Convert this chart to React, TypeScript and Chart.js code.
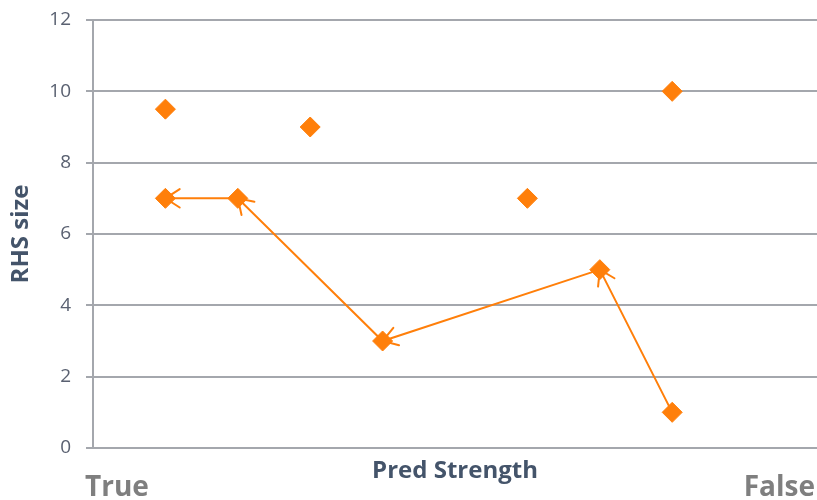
import React, { useEffect, useRef } from "react";
import { Chart, registerables } from "chart.js";

Chart.register(...registerables);

// Individual observations (x = position along predictor strength, y = RHS size)
const pointX = [1, 1, 2, 3, 4, 6, 7, 8, 8];
const pointY = [9.5, 7, 7, 9, 3, 7, 5, 10, 1];

// Path traced between observations, in travel order (arrow at each destination)
const pathX = [8, 7, 4, 2, 1];
const pathY = [1, 5, 3, 7, 7];

const yTicks = [0, 2, 4, 6, 8, 10, 12];
const xLeftLabel = "True";
const xRightLabel = "False";
const xTitle = "Pred Strength";
const yTitle = "RHS size";

const ORANGE = "#ff7f0a";
const GRID = "#a4a7ad";
const FONT = "'Open Sans', 'Liberation Sans', sans-serif";

const arrowPlugin = {
  id: "pathArrows",
  afterDatasetDraw(chart: any, args: any) {
    if (args.index !== 1) return;
    const pts = args.meta.data;
    const ctx = chart.ctx;
    ctx.save();
    ctx.strokeStyle = ORANGE;
    ctx.lineWidth = 2;
    ctx.lineCap = "round";
    for (let i = 1; i < pts.length; i++) {
      const a = pts[i - 1];
      const b = pts[i];
      const ang = Math.atan2(b.y - a.y, b.x - a.x);
      const len = 17;
      const spread = Math.PI / 5.5;
      ctx.beginPath();
      ctx.moveTo(b.x - len * Math.cos(ang - spread), b.y - len * Math.sin(ang - spread));
      ctx.lineTo(b.x, b.y);
      ctx.lineTo(b.x - len * Math.cos(ang + spread), b.y - len * Math.sin(ang + spread));
      ctx.stroke();
    }
    ctx.restore();
  },
};

const endLabelsPlugin = {
  id: "endLabels",
  afterDraw(chart: any) {
    const ctx = chart.ctx;
    ctx.save();
    ctx.fillStyle = "#7f7f7f";
    ctx.font = `bold 28px ${FONT}`;
    ctx.textBaseline = "alphabetic";
    ctx.textAlign = "left";
    ctx.fillText(xLeftLabel, 85, 496);
    ctx.textAlign = "right";
    ctx.fillText(xRightLabel, 815, 496);
    ctx.restore();
  },
};

export default function App() {
  const canvasRef = useRef<HTMLCanvasElement>(null);

  useEffect(() => {
    const canvas = canvasRef.current;
    if (!canvas) return;
    const chart = new Chart(canvas, {
      type: "scatter",
      data: {
        datasets: [
          {
            data: pointX.map((x, i) => ({ x, y: pointY[i] })),
            pointStyle: "rectRot",
            pointRadius: 10,
            pointHoverRadius: 10,
            backgroundColor: ORANGE,
            borderColor: ORANGE,
            borderWidth: 1,
            showLine: false,
          },
          {
            data: pathX.map((x, i) => ({ x, y: pathY[i] })),
            showLine: true,
            pointRadius: 0,
            borderColor: ORANGE,
            borderWidth: 2,
            backgroundColor: ORANGE,
          },
        ],
      },
      options: {
        responsive: false,
        animation: false,
        layout: { autoPadding: false, padding: { top: 20, right: 0, left: 0, bottom: 0 } },
        plugins: {
          legend: { display: false },
          tooltip: { enabled: false },
        },
        scales: {
          x: {
            type: "linear",
            min: 0,
            max: 10,
            grid: { display: false },
            border: { display: false },
            ticks: { display: false },
            title: {
              display: true,
              text: xTitle,
              color: "#44546a",
              font: { family: FONT, size: 24, weight: "bold" },
              padding: { top: 0, bottom: 14 },
            },
            afterFit(scale: any) {
              scale.height = 52;
            },
          },
          y: {
            min: 0,
            max: 12,
            afterBuildTicks(scale: any) {
              scale.ticks = yTicks.map((v) => ({ value: v }));
            },
            grid: {
              color: GRID,
              lineWidth: 2,
              drawTicks: true,
              tickLength: 7,
            },
            border: { display: true, color: GRID, width: 2 },
            ticks: {
              color: "#5a6171",
              padding: 15,
              font: { family: FONT, size: 19, lineHeight: 0.5 },
            },
            title: {
              display: true,
              text: yTitle,
              color: "#44546a",
              font: { family: FONT, size: 24, weight: "bold" },
              padding: { top: 7, bottom: 0 },
            },
            afterFit(scale: any) {
              scale.width = 93;
            },
          },
        },
      },
      plugins: [arrowPlugin, endLabelsPlugin],
    });
    return () => chart.destroy();
  }, []);

  return (
    <div style={{ position: "absolute", left: 0, top: 0, width: 817, height: 500, background: "#fff" }}>
      <canvas ref={canvasRef} width={817} height={500} />
    </div>
  );
}
